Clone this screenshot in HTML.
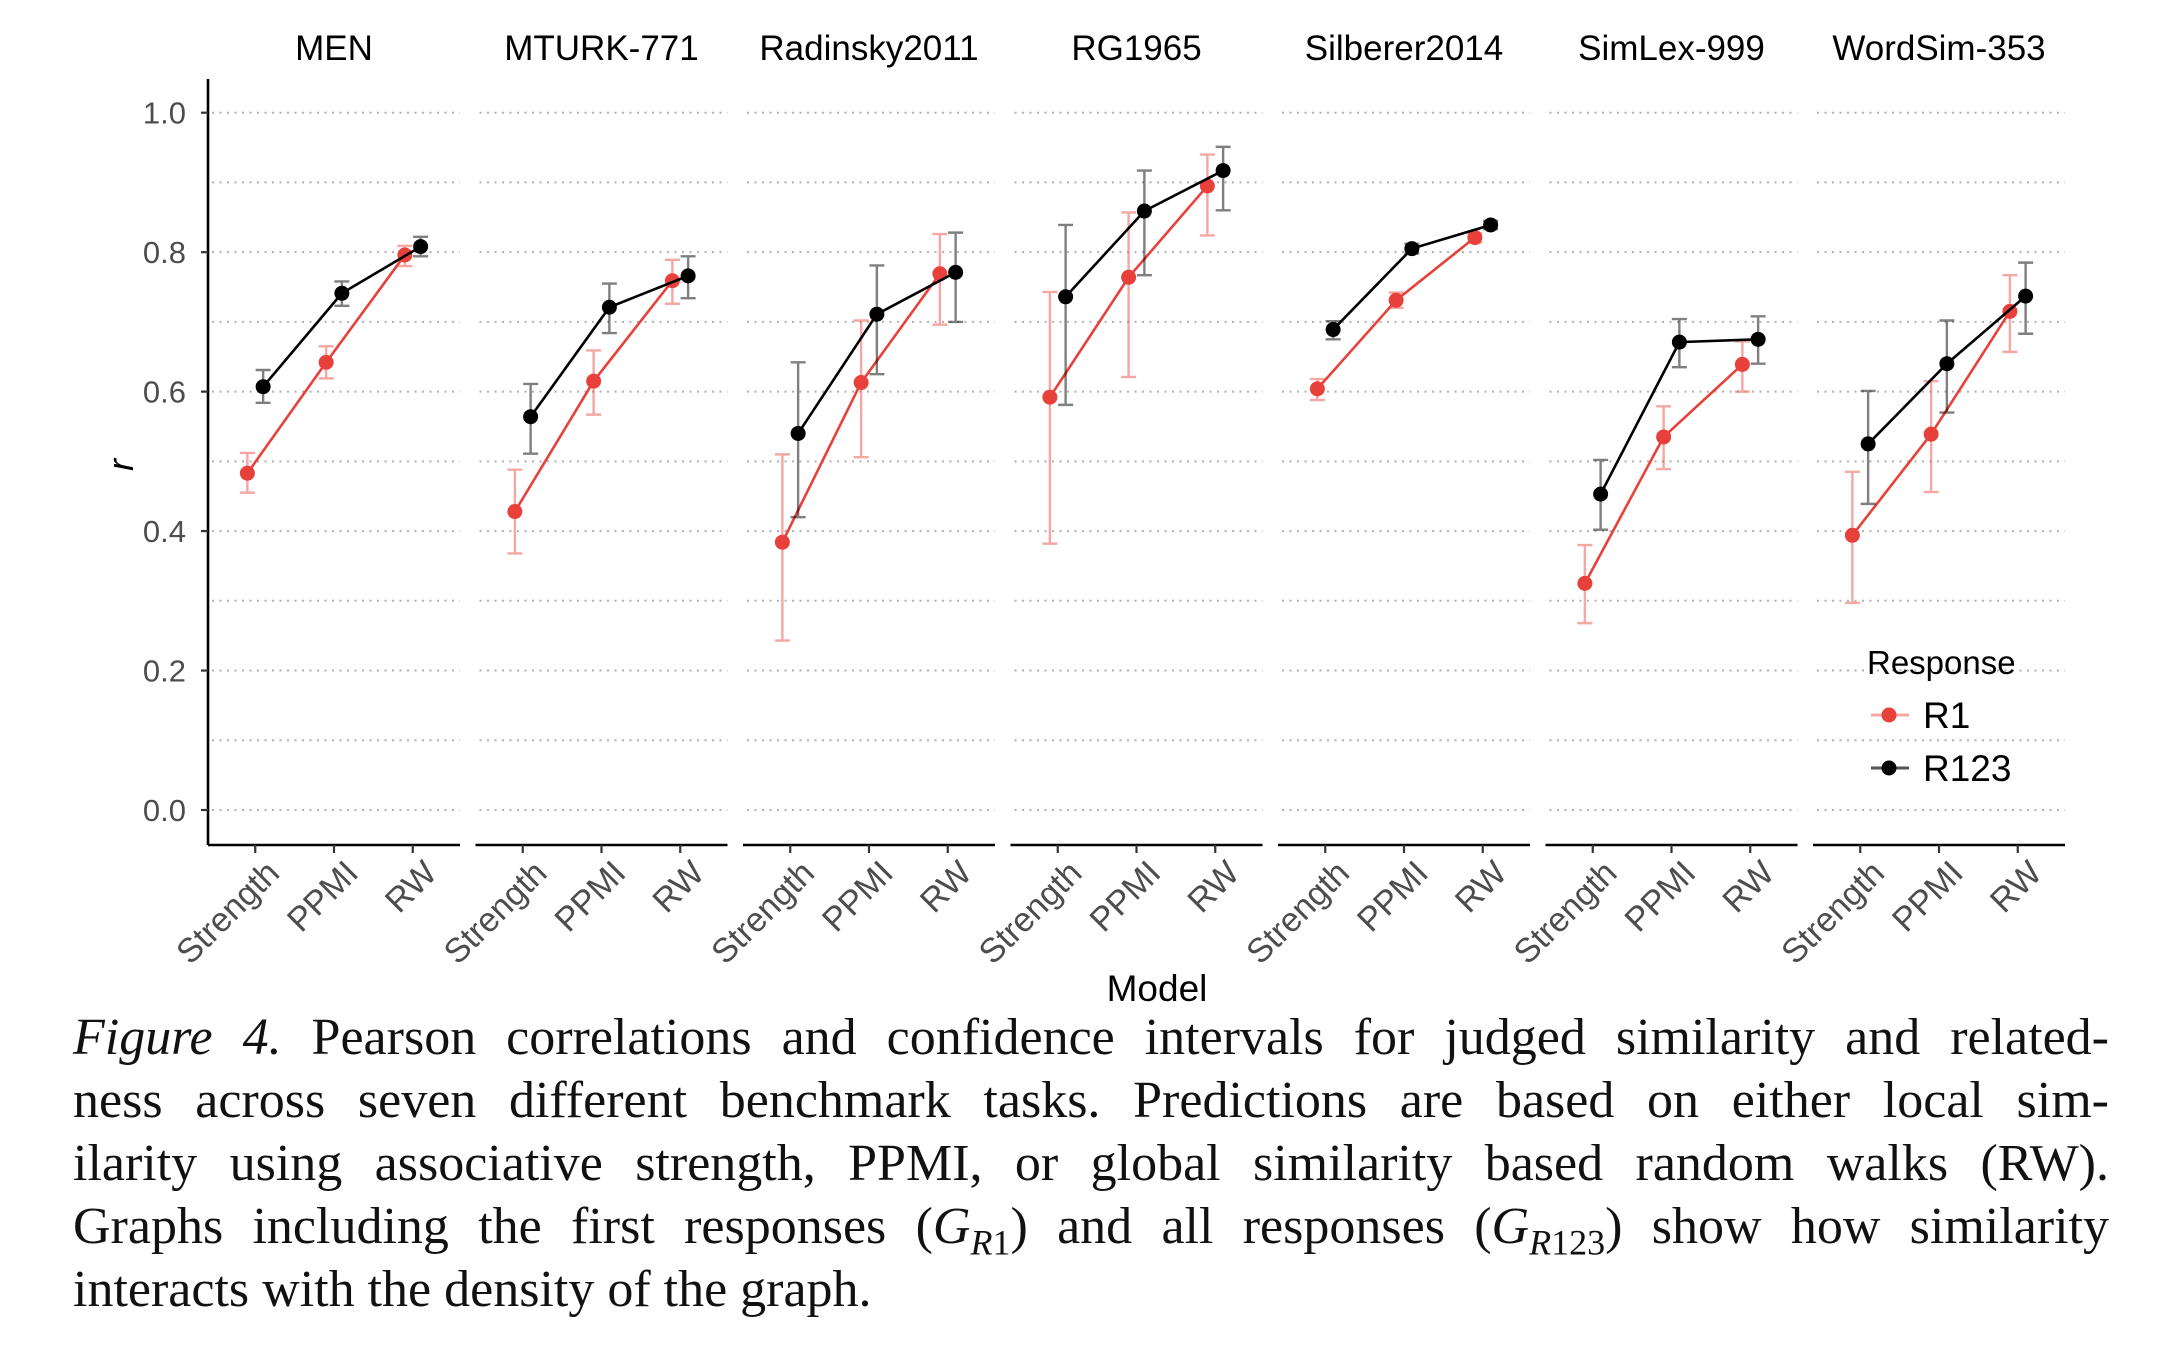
<!DOCTYPE html>
<html><head><meta charset="utf-8">
<style>
html,body{margin:0;padding:0;background:#fff;}
body{width:2160px;height:1350px;position:relative;overflow:hidden;}
svg{position:absolute;left:0;top:0;}
.cap{position:absolute;left:73px;width:2036px;font-family:"Liberation Serif",serif;font-size:52px;color:#111;text-align:justify;text-align-last:justify;white-space:nowrap;line-height:63px;}
</style></head>
<body>
<svg id="chart" width="2160" height="1010" font-family="Liberation Sans, sans-serif"></svg>
<div>
<div class="cap" style="top:1006px"><i>Figure 4.</i> Pearson correlations and confidence intervals for judged similarity and related-</div>
<div class="cap" style="top:1069px">ness across seven different benchmark tasks. Predictions are based on either local sim-</div>
<div class="cap" style="top:1132px">ilarity using associative strength, PPMI, or global similarity based random walks (RW).</div>
<div class="cap" style="top:1195px">Graphs including the first responses (<i>G</i><sub style="font-size:36px"><i>R</i>1</sub>) and all responses (<i>G</i><sub style="font-size:36px"><i>R</i>123</sub>) show how similarity</div>
<div class="cap" style="top:1258px;text-align-last:left">interacts with the density of the graph.</div>
</div>
<script>
const panels = ["MEN","MTURK-771","Radinsky2011","RG1965","Silberer2014","SimLex-999","WordSim-353"];
const models = ["Strength","PPMI","RW"];
const yTicks = [0.0,0.2,0.4,0.6,0.8,1.0];
const yTickLabels = ["0.0","0.2","0.4","0.6","0.8","1.0"];
const r1Values = [[0.483,0.642,0.796],[0.428,0.615,0.759],[0.384,0.613,0.769],[0.592,0.764,0.895],[0.604,0.731,0.821],[0.325,0.535,0.639],[0.394,0.539,0.715]];
const r1Low = [[0.455,0.619,0.780],[0.368,0.567,0.726],[0.243,0.506,0.696],[0.382,0.621,0.824],[0.588,0.720,0.814],[0.268,0.489,0.600],[0.297,0.456,0.657]];
const r1High = [[0.512,0.665,0.809],[0.488,0.659,0.789],[0.510,0.702,0.826],[0.743,0.857,0.940],[0.618,0.742,0.827],[0.380,0.579,0.672],[0.485,0.615,0.767]];
const r123Values = [[0.607,0.741,0.808],[0.564,0.721,0.766],[0.540,0.711,0.771],[0.736,0.859,0.917],[0.689,0.805,0.839],[0.453,0.671,0.675],[0.525,0.640,0.737]];
const r123Low = [[0.584,0.723,0.794],[0.511,0.684,0.734],[0.420,0.625,0.700],[0.581,0.767,0.860],[0.675,0.798,0.833],[0.402,0.635,0.640],[0.439,0.570,0.683]];
const r123High = [[0.631,0.758,0.822],[0.611,0.755,0.794],[0.642,0.781,0.828],[0.839,0.917,0.951],[0.701,0.812,0.845],[0.502,0.704,0.708],[0.601,0.702,0.785]];

const NS="http://www.w3.org/2000/svg";
const svg=document.getElementById('chart');
const Y0=810, Y1=112.7, AX_TOP=79, AX_BOT=845;
const P0=208, PW=252, PSTEP=267.5;
function y(v){return Y0-(Y0-Y1)*v;}
function x(p,i,d){return P0+p*PSTEP+PW*((i+1+d)-0.4)/3.2;}
function mk(tag,attrs,parent){const e=document.createElementNS(NS,tag);for(const k in attrs)e.setAttribute(k,attrs[k]);(parent||svg).appendChild(e);return e;}
const RED="#e8413b", REDCI="rgba(236,80,74,0.5)", BLK="#000", BLKCI="rgba(0,0,0,0.5)";

const ya=mk('g',{});


mk('line',{x1:P0,x2:P0,y1:AX_TOP,y2:AX_BOT,stroke:'#000','stroke-width':2.6},ya);
yTicks.forEach((t,i)=>{
  mk('line',{x1:P0-7,x2:P0,y1:y(t),y2:y(t),stroke:'#333','stroke-width':2.2},ya);
  const tx=mk('text',{x:186,y:y(t)+11,'text-anchor':'end','font-size':31,fill:'#4d4d4d'},ya);
  tx.textContent=yTickLabels[i];
});
const yt=mk('text',{transform:'translate(133,465) rotate(-90)','text-anchor':'middle','font-size':36,'font-style':'italic',fill:'#000'});


yt.textContent='r';

const series=[
 {name:'r1',vals:r1Values,lo:r1Low,hi:r1High,col:RED,ci:REDCI,d:-0.1},
 {name:'r123',vals:r123Values,lo:r123Low,hi:r123High,col:BLK,ci:BLKCI,d:0.1}
];

panels.forEach((pn,p)=>{
  const g=mk('g',{});
  
  
  const px=P0+p*PSTEP;
  for(let k=0;k<=10;k++){
    mk('line',{x1:px+4,x2:px+PW,y1:y(k/10),y2:y(k/10),stroke:'#b0b0b0','stroke-width':2,'stroke-dasharray':'2 5.5'},g);
  }
  mk('line',{x1:px,x2:px+PW,y1:AX_BOT,y2:AX_BOT,stroke:'#000','stroke-width':2.6},g);
  const tt=mk('text',{x:px+PW/2,y:60,'text-anchor':'middle','font-size':35,fill:'#000'},g);
  
  
  tt.textContent=pn;
  models.forEach((m,i)=>{
    const tx0=x(p,i,0);
    mk('line',{x1:tx0,x2:tx0,y1:AX_BOT,y2:AX_BOT+8,stroke:'#333','stroke-width':2.2},g);
    const lb=mk('text',{transform:`translate(${tx0+26},${AX_BOT+30}) rotate(-45)`,'text-anchor':'end','font-size':34,fill:'#4d4d4d'},g);
    
    
    lb.textContent=m;
  });
  series.forEach(s=>{
    const sg=mk('g',{},g);
    
    
    models.forEach((m,i)=>{
      const cx=x(p,i,s.d);
      const eb=mk('path',{d:`M${cx-7.5},${y(s.hi[p][i])}H${cx+7.5}M${cx},${y(s.hi[p][i])}V${y(s.lo[p][i])}M${cx-7.5},${y(s.lo[p][i])}H${cx+7.5}`,stroke:s.ci,'stroke-width':2.4,fill:'none'},sg);
      
      
    });
    const pts=models.map((m,i)=>x(p,i,s.d)+','+y(s.vals[p][i])).join(' ');
    const ln=mk('polyline',{points:pts,fill:'none',stroke:s.col,'stroke-width':2.6},sg);
    
    
    models.forEach((m,i)=>{
      const c=mk('circle',{cx:x(p,i,s.d),cy:y(s.vals[p][i]),r:7.5,fill:s.col},sg);
      
      
    });
  });
});

const xt=mk('text',{x:1157,y:1001,'text-anchor':'middle','font-size':37,fill:'#000'});


xt.textContent='Model';

const lg=mk('g',{});


const lt=mk('text',{x:1867,y:674,'font-size':33,fill:'#000'},lg);
lt.textContent='Response';
[["R1",RED,REDCI,715],["R123",BLK,'#555',768]].forEach(e=>{
  const eg=mk('g',{},lg);
  
  
  mk('line',{x1:1871,x2:1909,y1:e[3],y2:e[3],stroke:e[2],'stroke-width':3},eg);
  mk('circle',{cx:1889,cy:e[3],r:7.5,fill:e[1]},eg);
  const t=mk('text',{x:1923,y:e[3]+13,'font-size':37,fill:'#000'},eg);
  t.textContent=e[0];
});
</script>
</body></html>
